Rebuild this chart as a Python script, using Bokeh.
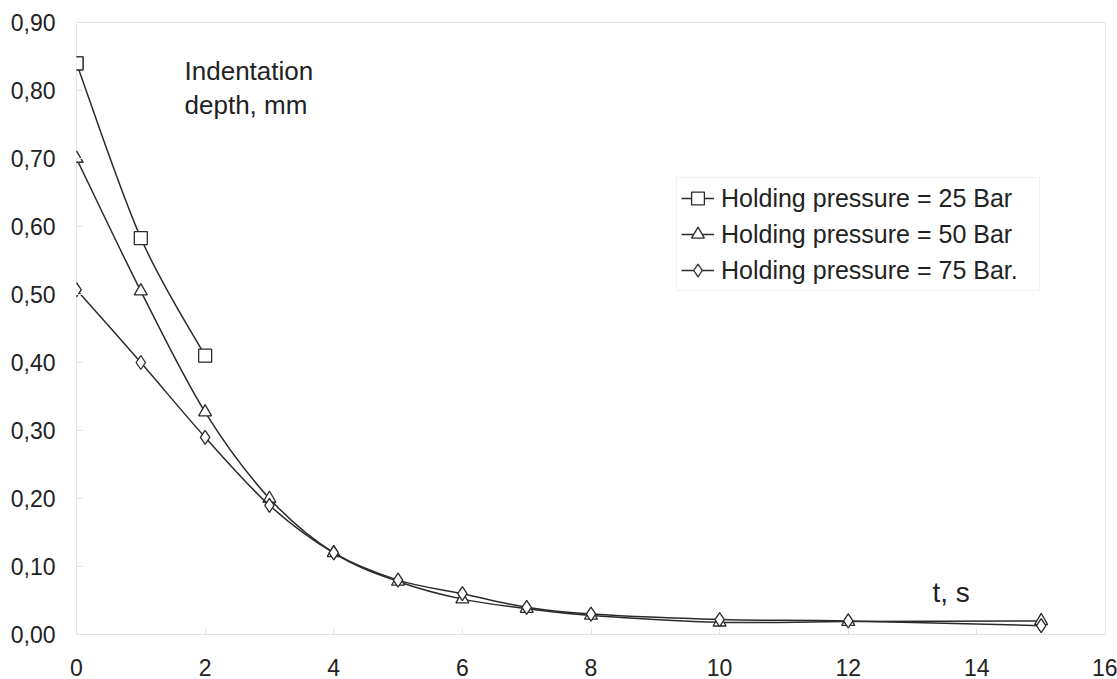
from bokeh.plotting import figure
from bokeh.models import (Range1d, FixedTicker, CustomJSTickFormatter, Legend,
                          LegendItem, ColumnDataSource)
from bokeh.core.properties import value
from bokeh.embed import file_html
from bokeh.resources import INLINE

# ---- data ----
t25 = [0, 1, 2]
d25 = [0.840, 0.583, 0.410]
t50 = [0, 1, 2, 3, 4, 5, 6, 7, 8, 10, 12, 15]
d50 = [0.700, 0.505, 0.327, 0.200, 0.120, 0.078, 0.052, 0.038, 0.028, 0.018, 0.019, 0.020]
t75 = [0, 1, 2, 3, 4, 5, 6, 7, 8, 10, 12, 15]
d75 = [0.507, 0.400, 0.290, 0.190, 0.120, 0.080, 0.060, 0.040, 0.030, 0.022, 0.020, 0.013]
labels = ["Holding pressure = 25 Bar", "Holding pressure = 50 Bar", "Holding pressure = 75 Bar."]
x_ticks = [0, 2, 4, 6, 8, 10, 12, 14, 16]
y_ticks = [0.0, 0.1, 0.2, 0.3, 0.4, 0.5, 0.6, 0.7, 0.8, 0.9]

FONT = "Liberation Sans"
LINE = "#2b2b2b"
FAINT = "#e4e4e4"

p = figure(width=1117, height=679, output_backend="svg", toolbar_location=None,
           x_range=Range1d(0, 16), y_range=Range1d(0, 0.9),
           min_border_left=76, min_border_right=12, min_border_top=22, min_border_bottom=45)
p.background_fill_color = "white"
p.border_fill_color = "white"
p.outline_line_color = FAINT
p.outline_line_width = 1
p.xgrid.visible = False
p.ygrid.visible = False

for ax in (p.xaxis[0], p.yaxis[0]):
    ax.axis_line_color = None
    ax.major_tick_line_color = FAINT
    ax.major_tick_in = 6
    ax.major_tick_out = 0
    ax.minor_tick_line_color = None
    ax.major_label_text_font = FONT
    ax.major_label_text_font_size = "23px"
    ax.major_label_text_color = "#222222"

p.xaxis[0].ticker = FixedTicker(ticks=x_ticks)
p.yaxis[0].ticker = FixedTicker(ticks=y_ticks)
p.yaxis[0].formatter = CustomJSTickFormatter(code="return tick.toFixed(2).replace('.', ',');")
p.xaxis[0].major_label_standoff = 24
p.yaxis[0].major_label_standoff = 21


def smooth(xs, ys, k=1.0 / 6.0):
    n = len(xs)
    x0, y0, x1, y1, cx0, cy0, cx1, cy1 = [], [], [], [], [], [], [], []
    for i in range(n - 1):
        xm, ym = (xs[i - 1], ys[i - 1]) if i > 0 else (xs[i], ys[i])
        xp, yp = (xs[i + 2], ys[i + 2]) if i + 2 < n else (xs[i + 1], ys[i + 1])
        x0.append(xs[i]); y0.append(ys[i])
        x1.append(xs[i + 1]); y1.append(ys[i + 1])
        cx0.append(xs[i] + (xs[i + 1] - xm) * k); cy0.append(ys[i] + (ys[i + 1] - ym) * k)
        cx1.append(xs[i + 1] - (xp - xs[i]) * k); cy1.append(ys[i + 1] - (yp - ys[i]) * k)
    return dict(x0=x0, y0=y0, x1=x1, y1=y1, cx0=cx0, cy0=cy0, cx1=cx1, cy1=cy1)


leg_items = []
for xs, ys, marker, lab in ((t25, d25, "square", labels[0]),
                            (t50, d50, "triangle", labels[1]),
                            (t75, d75, "diamond", labels[2])):
    src = ColumnDataSource(smooth(xs, ys))
    p.bezier(x0="x0", y0="y0", x1="x1", y1="y1", cx0="cx0", cy0="cy0", cx1="cx1", cy1="cy1",
             source=src, line_color=LINE, line_width=1.5)
    msize = 13 if marker != "diamond" else 14
    p.scatter(xs, ys, marker=marker, size=msize, fill_color="white",
              line_color=LINE, line_width=1.3)
    # legend proxies (drawn exactly over the first point)
    ln = p.line(xs[:1], ys[:1], line_color=LINE, line_width=1.5)
    mk = p.scatter(xs[:1], ys[:1], marker=marker, size=msize,
                   fill_color="white", line_color=LINE, line_width=1.3)
    leg_items.append(LegendItem(label=lab, renderers=[ln, mk]))

legend = Legend(items=leg_items, location=(600, 343), orientation="vertical",
                label_text_font=FONT, label_text_font_size="25px", label_text_color="#222222",
                glyph_width=33, glyph_height=32, label_height=32, label_width=314,
                label_standoff=7, spacing=4, padding=4, margin=0,
                border_line_color=FAINT, border_line_width=1, background_fill_color="white")
p.add_layout(legend)

# annotations
p.text(x=[1.68], y=[0.804], text=["Indentation\ndepth, mm"], text_font=value(FONT),
       text_font_size="26px", text_color="#222222", text_align="left", text_baseline="middle",
       text_line_height=1.15)
p.text(x=[13.6], y=[0.062], text=["t, s"], text_font=value(FONT),
       text_font_size="28px", text_color="#222222", text_align="center", text_baseline="middle")

open("out.html", "w").write(file_html(p, INLINE))
